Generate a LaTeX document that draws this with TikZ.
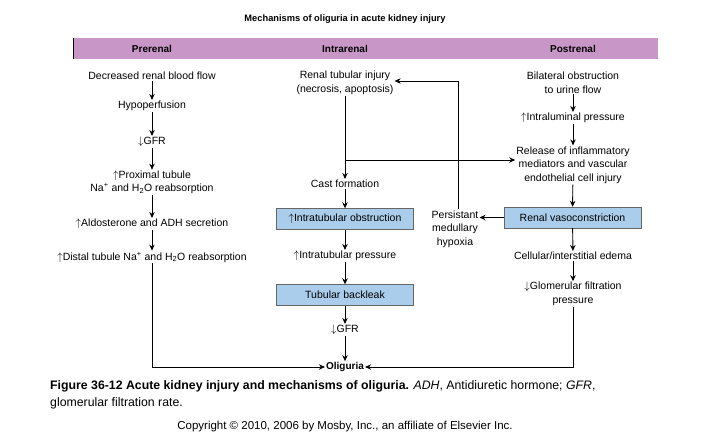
\documentclass[tikz,border=0pt]{standalone}
\usepackage{fontspec}
\setmainfont{Liberation Sans}
\usetikzlibrary{arrows.meta}
\definecolor{hdr}{HTML}{C996C8}
\definecolor{bx}{HTML}{AACDEB}
\begin{document}
\begin{tikzpicture}[x=1pt,y=-1pt,
  t/.style={font=\fontsize{10.5}{13.5}\selectfont,align=center,inner sep=1pt},
  box/.style={t,draw=gray!80!black,fill=bx,minimum width=137pt,minimum height=21pt},
  a/.style={-{Stealth[length=6pt,width=5.5pt]},line width=0.9pt},
  hd/.style={font=\fontsize{10}{12}\selectfont\bfseries,inner sep=1pt}]
\useasboundingbox (0,0) rectangle (705,447);
\node[font=\fontsize{9.3}{11}\selectfont\bfseries] (title) at (345,19) {Mechanisms of oliguria in acute kidney injury};
\fill[hdr] (73,38) rectangle (658,59);
\draw[line width=1pt] (73,38) -- (73,59);
\node[hd] (h1) at (152,48.5) {Prerenal};
\node[hd] (h2) at (345,48.5) {Intrarenal};
\node[hd] (h3) at (573,48.5) {Postrenal};
% prerenal
\node[t] (p1) at (152,76) {Decreased renal blood flow};
\node[t] (p2) at (152,106) {Hypoperfusion};
\node[t] (p3) at (152,142) {$\downarrow$GFR};
\node[t] (p4) at (152,182.5) {$\uparrow$Proximal tubule\\Na\textsuperscript{+} and H\textsubscript{2}O reabsorption};
\node[t] (p5) at (152,224) {$\uparrow$Aldosterone and ADH secretion};
\node[t] (p6) at (152,257) {$\uparrow$Distal tubule Na\textsuperscript{+} and H\textsubscript{2}O reabsorption};
% intrarenal
\node[t] (i1) at (345,83) {Renal tubular injury\\(necrosis, apoptosis)};
\node[t] (i2) at (345,184) {Cast formation};
\node[box] (i3) at (345,219) {$\uparrow$Intratubular obstruction};
\node[t] (i4) at (345,256) {$\uparrow$Intratubular pressure};
\node[box] (i5) at (345,295) {Tubular backleak};
\node[t] (i6) at (345,330) {$\downarrow$GFR};
\node[hd] (ol) at (345,367) {Oliguria};
% postrenal
\node[t] (q1) at (573,82.5) {Bilateral obstruction\\to urine flow};
\node[t] (q2) at (573,118) {$\uparrow$Intraluminal pressure};
\node[t] (q3) at (573,165) {Release of inflammatory\\mediators and vascular\\endothelial cell injury};
\node[box] (q4) at (572.5,217.5) {Renal vasoconstriction};
\node[t] (q5) at (573,256) {Cellular/interstitial edema};
\node[t] (q6) at (573,294) {$\downarrow$Glomerular filtration\\pressure};
\node[t] (hx) at (455,229) {Persistant\\medullary\\hypoxia};
% arrows
\foreach \u/\v in {p1/p2,p2/p3,p3/p4,p4/p5,p5/p6,i1/i2,i2/i3,i3/i4,i4/i5,i5/i6,i6/ol,q1/q2,q2/q3,q3/q4,q4/q5,q5/q6}
  \draw[a] (\u) -- (\v);
\coordinate (c1) at (345,160);
\draw[a] (c1) -- (q3.west |- c1);
\coordinate (c2) at (458,81);
\draw[a] (q4.west) -- (hx.east |- q4.west);
\draw[a] (hx.north -| c2) -- (c2) -- (i1.east |- c2);
\draw[a] (p6.south) |- (ol.west);
\draw[a] (q6.south) |- (ol.east);
% caption
\node[anchor=west,inner sep=0pt,font=\fontsize{12.3}{14}\selectfont] (cap1) at (50,386) {\textbf{Figure 36-12 Acute kidney injury and mechanisms of oliguria.} \textit{ADH}, Antidiuretic hormone; \textit{GFR},};
\node[anchor=west,inner sep=0pt,font=\fontsize{12.3}{14}\selectfont] (cap2) at (50,403) {glomerular filtration rate.};
\node[inner sep=0pt,font=\fontsize{11.5}{13}\selectfont] (copy) at (345,427) {Copyright © 2010, 2006 by Mosby, Inc., an affiliate of Elsevier Inc.};
\end{tikzpicture}
\end{document}
